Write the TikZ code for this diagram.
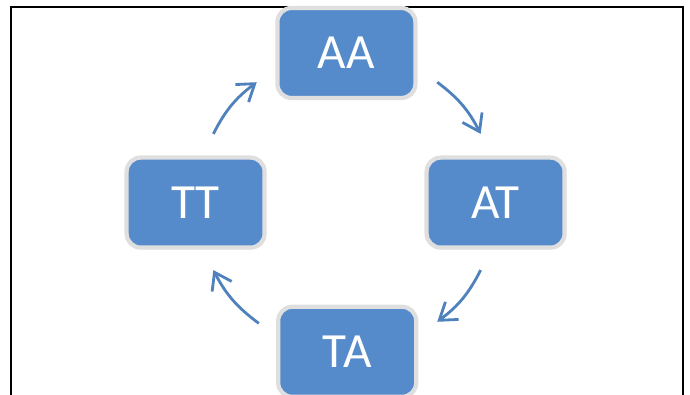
\documentclass[tikz,border=0pt]{standalone}
\usepackage{fontspec}
\newfontfamily\boxfont{Carlito}
\usetikzlibrary{calc,arrows.meta,positioning,shadows}

\definecolor{boxblue}{RGB}{86,139,203}
\definecolor{arrowblue}{RGB}{79,129,189}

\begin{document}
\begin{tikzpicture}[box/.style={rounded corners=10pt,fill=boxblue,draw=gray!25,line width=3pt,minimum width=3.45cm,minimum height=2.25cm,text=white,font=\boxfont\fontsize{35}{40}\selectfont,drop shadow={opacity=0.35,shadow xshift=1pt,shadow yshift=-1pt}},flow/.style={arrowblue,line width=2pt,-{Straight Barb[length=4mm,width=5.5mm,line width=2pt]}}]
            \useasboundingbox (0,0) rectangle (17.25,9.875);
            \clip (0,0) rectangle (17.25,9.875);
            \draw[line width=2pt] (0.275,-1) -- (0.275,9.7) -- (17.075,9.7) -- (17.075,-1);
            
            \coordinate (c) at (8.675,4.825);
            
            \node[box] (aa) at (8.66,8.55) {AA};
            \node[box] (at) at (12.39,4.81) {AT};
            \node[box] (ta) at (8.68,1.08) {TA};
            \node[box] (tt) at (4.89,4.81) {TT};
            
            \coordinate (aa-out) at ($(c)+(53:3.75)$);
            \coordinate (at-in) at ($(c)+(27:3.75)$);
            \coordinate (at-out) at ($(c)+(-27:3.75)$);
            \coordinate (ta-in) at ($(c)+(-53:3.75)$);
            \coordinate (ta-out) at ($(c)+(234:3.75)$);
            \coordinate (tt-in) at ($(c)+(207:3.75)$);
            \coordinate (tt-out) at ($(c)+(153:3.75)$);
            \coordinate (aa-in) at ($(c)+(127:3.75)$);
            
            \draw[flow] (aa-out) to[bend left=13] (at-in);
            \draw[flow] (at-out) to[bend left=13] (ta-in);
            \draw[flow] (ta-out) to[bend left=13] (tt-in);
            \draw[flow] (tt-out) to[bend left=13] (aa-in);
        \end{tikzpicture}
\end{document}
